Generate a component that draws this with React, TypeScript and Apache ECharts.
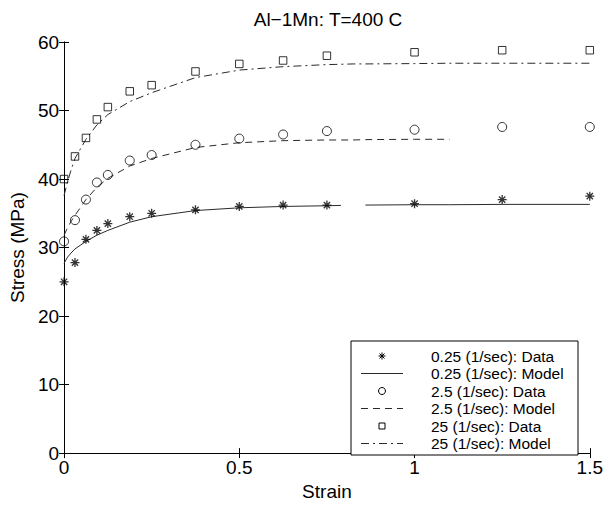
import React, { useEffect, useRef } from "react";
import * as echarts from "echarts";

const FONT = "'Liberation Sans', Arial, Helvetica, sans-serif";

// Measured data points
const strain = [0, 0.03125, 0.0625, 0.09375, 0.125, 0.1875, 0.25, 0.375, 0.5, 0.625, 0.75, 1.0, 1.25, 1.5];
const data025 = [25.0, 27.8, 31.2, 32.5, 33.5, 34.5, 35.0, 35.5, 36.0, 36.2, 36.2, 36.4, 37.0, 37.5];
const data2p5 = [30.9, 34.0, 37.0, 39.5, 40.6, 42.7, 43.5, 45.0, 45.9, 46.5, 47.0, 47.2, 47.6, 47.6];
const data25 = [40.0, 43.3, 46.0, 48.7, 50.5, 52.8, 53.7, 55.7, 56.8, 57.3, 58.0, 58.5, 58.8, 58.8];

// Model curves (null = no line drawn there)
const modelStrain = [0, 0.01, 0.02, 0.03125, 0.0625, 0.09375, 0.125, 0.1875, 0.25, 0.375, 0.5, 0.625, 0.75, 0.79, 0.825, 0.86, 1.0, 1.1, 1.25, 1.5];
const model025 = [27.7, 28.6, 29.2, 29.8, 30.9, 31.8, 32.5, 33.7, 34.5, 35.4, 35.8, 36.0, 36.1, 36.15, null, 36.2, 36.25, 36.25, 36.3, 36.3];
const model2p5 = [31.8, 32.9, 33.8, 34.7, 37.0, 38.8, 40.1, 41.9, 43.0, 44.6, 45.3, 45.6, 45.7, 45.7, 45.7, 45.75, 45.8, 45.8, null, null];
const model25 = [37.6, 39.6, 41.3, 43.0, 45.8, 47.9, 49.4, 51.3, 52.6, 54.8, 55.9, 56.4, 56.7, 56.75, 56.8, 56.8, 56.85, 56.9, 56.9, 56.9];

const seriesNames = [
  "0.25 (1/sec): Data",
  "0.25 (1/sec): Model",
  "2.5 (1/sec): Data",
  "2.5 (1/sec): Model",
  "25 (1/sec): Data",
  "25 (1/sec): Model",
];

const xTicks = { min: 0, max: 1.5, interval: 0.5 };
const yTicks = { min: 0, max: 60, interval: 10 };

const STAR = "path://M5,0L5,10M0,5L10,5M1.5,1.5L8.5,8.5M1.5,8.5L8.5,1.5";
const LINE_COLOR = "#2a2a2a";
const DASH = [7, 5];
const DASHDOT = [8, 4, 2, 4];

const pairs = (xs: number[], ys: (number | null)[]) =>
  xs.map((x, i) => [x, ys[i] === null ? "-" : ys[i]]);

const markerStyle = {
  color: "rgba(0,0,0,0)",
  borderColor: "#000",
  borderWidth: 1,
};

function legendGraphic() {
  const boxX = 351, boxY = 341, boxW = 227, boxH = 114;
  const row0 = 356, step = 17.5;
  const iconX0 = 361, iconX1 = 403, iconCx = 382, textX = 431;
  const els: any[] = [
    {
      type: "rect",
      shape: { x: boxX, y: boxY, width: boxW, height: boxH },
      style: { fill: "#fff", stroke: "#000", lineWidth: 1 },
      z: 10,
    },
  ];
  const lineStroke = (cy: number, dash: any) => ({
    type: "line",
    shape: { x1: iconX0, y1: cy, x2: iconX1, y2: cy },
    style: { stroke: LINE_COLOR, lineWidth: 1, lineDash: dash },
    z: 11,
  });
  seriesNames.forEach((name, i) => {
    const cy = row0 + i * step;
    if (i === 0) {
      const r = 3.5, d = 2.5;
      [
        [0, -r, 0, r],
        [-r, 0, r, 0],
        [-d, -d, d, d],
        [-d, d, d, -d],
      ].forEach(([a, b, c, e]) =>
        els.push({
          type: "line",
          shape: { x1: iconCx + a, y1: cy + b, x2: iconCx + c, y2: cy + e },
          style: { stroke: "#000", lineWidth: 1 },
          z: 11,
        })
      );
    } else if (i === 1) els.push(lineStroke(cy, null));
    else if (i === 2)
      els.push({
        type: "circle",
        shape: { cx: iconCx, cy, r: 3.5 },
        style: { fill: "none", stroke: "#000", lineWidth: 1 },
        z: 11,
      });
    else if (i === 3) els.push(lineStroke(cy, DASH));
    else if (i === 4)
      els.push({
        type: "rect",
        shape: { x: iconCx - 3, y: cy - 3, width: 6, height: 6 },
        style: { fill: "none", stroke: "#000", lineWidth: 1 },
        z: 11,
      });
    else els.push(lineStroke(cy, DASHDOT));
    els.push({
      type: "text",
      x: textX,
      y: cy,
      style: {
        text: name,
        fill: "#000",
        font: `15.5px ${FONT}`,
        textVerticalAlign: "middle",
        verticalAlign: "middle",
      },
      z: 11,
    });
  });
  return els;
}

export default function App() {
  const ref = useRef<HTMLDivElement>(null);
  useEffect(() => {
    if (!ref.current) return;
    const chart = echarts.init(ref.current, null, { renderer: "svg" });
    const axisCommon = {
      type: "value" as const,
      axisLine: { show: true, lineStyle: { color: "#000", width: 1 } },
      axisTick: { show: true, inside: true, length: 5, lineStyle: { color: "#000" } },
      splitLine: { show: false },
    };
    chart.setOption({
      animation: false,
      backgroundColor: "#fff",
      textStyle: { fontFamily: FONT },
      title: {
        text: "Al\u22121Mn: T=400 C",
        left: 323,
        top: 5,
        textAlign: "center",
        textStyle: { fontSize: 19, fontWeight: "normal", color: "#000", fontFamily: FONT },
      },
      grid: { left: 55, right: 15, top: 42, bottom: 41 },
      xAxis: [
        {
          ...axisCommon,
          ...xTicks,
          position: "bottom",
          axisLabel: { fontSize: 19, color: "#000", margin: 5, fontFamily: FONT, formatter: (v: number) => String(v) },
          name: "Strain",
          nameLocation: "middle",
          nameGap: 27,
          nameTextStyle: { fontSize: 19, color: "#000", fontFamily: FONT },
        },
        { ...axisCommon, ...xTicks, position: "top", axisLabel: { show: false } },
      ],
      yAxis: [
        {
          ...axisCommon,
          ...yTicks,
          position: "left",
          axisLabel: { fontSize: 19, color: "#000", margin: 5, fontFamily: FONT },
          name: "Stress (MPa)",
          nameLocation: "middle",
          nameRotate: 90,
          nameGap: 31,
          nameTextStyle: { fontSize: 19, color: "#000", fontFamily: FONT },
        },
        { ...axisCommon, ...yTicks, position: "right", axisLabel: { show: false } },
      ],
      graphic: legendGraphic(),
      series: [
        {
          name: seriesNames[0],
          type: "scatter",
          symbol: STAR,
          symbolSize: 9,
          itemStyle: { ...markerStyle, borderWidth: 1.3 },
          data: pairs(strain, data025),
          z: 3,
        },
        {
          name: seriesNames[1],
          type: "line",
          symbol: "none",
          connectNulls: false,
          lineStyle: { color: LINE_COLOR, width: 1, type: "solid" },
          data: pairs(modelStrain, model025),
        },
        {
          name: seriesNames[2],
          type: "scatter",
          symbol: "circle",
          symbolSize: 9,
          itemStyle: markerStyle,
          data: pairs(strain, data2p5),
          z: 3,
        },
        {
          name: seriesNames[3],
          type: "line",
          symbol: "none",
          connectNulls: false,
          lineStyle: { color: LINE_COLOR, width: 1, type: DASH },
          data: pairs(modelStrain, model2p5),
        },
        {
          name: seriesNames[4],
          type: "scatter",
          symbol: "rect",
          symbolSize: 7.5,
          itemStyle: markerStyle,
          data: pairs(strain, data25),
          z: 3,
        },
        {
          name: seriesNames[5],
          type: "line",
          symbol: "none",
          connectNulls: false,
          lineStyle: { color: LINE_COLOR, width: 1, type: DASHDOT },
          data: pairs(modelStrain, model25),
        },
      ],
    });
    return () => chart.dispose();
  }, []);
  return (
    <div
      ref={ref}
      style={{ position: "fixed", left: 0, top: 0, width: 606, height: 506, background: "#fff" }}
    />
  );
}
